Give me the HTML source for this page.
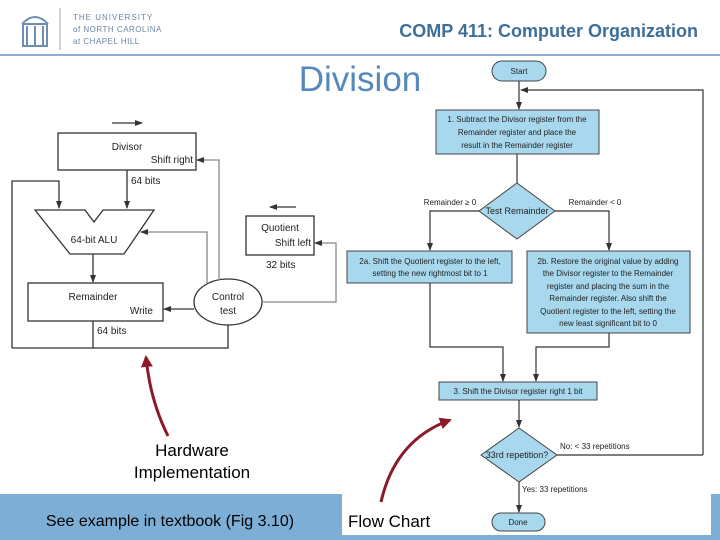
<!DOCTYPE html>
<html><head><meta charset="utf-8"><style>
body{margin:0;width:720px;height:540px;overflow:hidden;background:#fff}
svg{display:block}
text{font-family:"Liberation Sans",sans-serif}
</style></head><body>
<svg width="720" height="540" viewBox="0 0 720 540" xmlns="http://www.w3.org/2000/svg">
<defs>
<marker id="a" markerWidth="8" markerHeight="8" refX="7" refY="4" orient="auto" markerUnits="userSpaceOnUse"><path d="M0,1 L8,4 L0,7 Z" fill="#333"/></marker>
<marker id="g" markerWidth="8" markerHeight="8" refX="7" refY="4" orient="auto" markerUnits="userSpaceOnUse"><path d="M0,1 L8,4 L0,7 Z" fill="#333"/></marker>
<marker id="r" markerWidth="14" markerHeight="14" refX="10" refY="7" orient="auto" markerUnits="userSpaceOnUse"><path d="M0,1 L12,7 L0,13 Z" fill="#8b1a2b"/></marker>
</defs>
<!-- header -->
<g fill="none" stroke="#6f8fb0" stroke-width="2">
<path d="M22,24 Q35,10 48,24"/><rect x="23" y="24" width="24" height="22"/>
<line x1="27" y1="26" x2="27" y2="45"/><line x1="35" y1="26" x2="35" y2="45"/><line x1="43" y1="26" x2="43" y2="45"/>
</g>
<line x1="60" y1="8" x2="60" y2="50" stroke="#9ab" stroke-width="1"/>
<text x="73" y="20" font-family="Liberation Serif" font-size="8" fill="#6b84a0" letter-spacing="1">THE UNIVERSITY</text>
<text x="73" y="32" font-family="Liberation Serif" font-size="8" fill="#6b84a0" letter-spacing="0.5">of NORTH CAROLINA</text>
<text x="73" y="44" font-family="Liberation Serif" font-size="8" fill="#6b84a0" letter-spacing="0.5">at CHAPEL HILL</text>
<text x="698" y="37" text-anchor="end" font-size="18" font-weight="bold" fill="#3d6f9c">COMP 411: Computer Organization</text>
<line x1="0" y1="55" x2="720" y2="55" stroke="#8fb0cc" stroke-width="2"/>
<text x="360" y="91" text-anchor="middle" font-size="35" fill="#5588bb">Division</text>

<!-- hardware -->
<g stroke="#333" stroke-width="1.3" fill="none" font-size="10">
<line x1="112" y1="123" x2="142" y2="123" marker-end="url(#a)"/>
<rect x="58" y="133" width="138" height="37" fill="#fff"/>
<line x1="127" y1="170" x2="127" y2="208" marker-end="url(#a)"/>
<path d="M12,348 L12,181 L59,181 L59,208" marker-end="url(#a)"/>
<path d="M93,321 L93,348 L12,348"/>
<path d="M93,348 L228,348 L228,280" marker-end="url(#a)"/>
<path d="M35,210 L85,210 L94,222 L103,210 L154,210 L124,254 L70,254 Z" fill="#fff"/>
<line x1="93" y1="254" x2="93" y2="282" marker-end="url(#a)"/>
<rect x="28" y="283" width="135" height="38" fill="#fff"/>
<ellipse cx="228" cy="302" rx="34" ry="23" fill="#fff"/>
<line x1="194" y1="309" x2="164" y2="309" marker-end="url(#a)"/>
<path d="M207,283 L207,232 L141,232" stroke="#888" marker-end="url(#g)"/>
<path d="M219,280 L219,160 L197,160" stroke="#888" marker-end="url(#g)"/>
<rect x="246" y="216" width="68" height="39" fill="#fff"/>
<line x1="296" y1="207" x2="270" y2="207" marker-end="url(#a)"/>
<path d="M262,302 L336,302 L336,243 L315,243" stroke="#888" marker-end="url(#g)"/>
</g>
<g font-size="10" fill="#222">
<text x="127" y="150" text-anchor="middle">Divisor</text>
<text x="193" y="163" text-anchor="end">Shift right</text>
<text x="131" y="184">64 bits</text>
<text x="94" y="243" text-anchor="middle">64-bit ALU</text>
<text x="93" y="300" text-anchor="middle">Remainder</text>
<text x="153" y="314" text-anchor="end">Write</text>
<text x="228" y="300" text-anchor="middle">Control</text>
<text x="228" y="314" text-anchor="middle">test</text>
<text x="280" y="231" text-anchor="middle">Quotient</text>
<text x="311" y="246" text-anchor="end">Shift left</text>
<text x="266" y="268">32 bits</text>
<text x="97" y="334">64 bits</text>
</g>

<!-- bottom band -->
<rect x="0" y="494" width="720" height="46" fill="#7daed6"/>
<rect x="342" y="494" width="369" height="41" fill="#fff"/>

<!-- flowchart -->
<g stroke="#333" stroke-width="1.2" fill="none">
<path d="M703,455 L703,90 L521,90" marker-end="url(#a)"/>
<line x1="519" y1="81" x2="519" y2="109" marker-end="url(#a)"/>
<line x1="517" y1="154" x2="517" y2="183"/>
<path d="M479,211 L430,211 L430,250" marker-end="url(#a)"/>
<path d="M555,211 L609,211 L609,250" marker-end="url(#a)"/>
<path d="M430,283 L430,347 L503,347 L503,381" marker-end="url(#a)"/>
<path d="M609,333 L609,347 L536,347 L536,381" marker-end="url(#a)"/>
<line x1="519" y1="400" x2="519" y2="427" marker-end="url(#a)"/>
<line x1="557" y1="455" x2="703" y2="455"/>
<line x1="519" y1="482" x2="519" y2="512" marker-end="url(#a)"/>
</g>
<g stroke="#444" stroke-width="1" fill="#a8d8ee">
<rect x="492" y="61" width="54" height="20" rx="10"/>
<rect x="436" y="110" width="163" height="44"/>
<path d="M517,183 L555,211 L517,239 L479,211 Z"/>
<rect x="347" y="251" width="165" height="32"/>
<rect x="527" y="251" width="163" height="82"/>
<rect x="439" y="382" width="158" height="18"/>
<path d="M519,428 L557,455 L519,482 L481,455 Z"/>
<rect x="492" y="513" width="53" height="18" rx="9"/>
</g>
<g font-size="8" fill="#222" text-anchor="middle">
<text x="519" y="74">Start</text>
<text x="517" y="122">1.  Subtract the Divisor register from the</text>
<text x="517" y="135">Remainder register and place the</text>
<text x="517" y="148">result in the Remainder register</text>
<text x="517" y="214" font-size="9">Test Remainder</text>
<text x="450" y="205">Remainder ≥ 0</text>
<text x="595" y="205">Remainder &lt; 0</text>
<text x="430" y="264">2a.  Shift the Quotient register to the left,</text>
<text x="430" y="276">setting the new rightmost bit to 1</text>
<text x="608" y="264">2b.  Restore the original value by adding</text>
<text x="608" y="276">the Divisor register to the Remainder</text>
<text x="608" y="289">register and placing the sum in the</text>
<text x="608" y="301">Remainder register. Also shift the</text>
<text x="608" y="314">Quotient register to the left, setting the</text>
<text x="608" y="326">new least significant bit to 0</text>
<text x="518" y="394">3.  Shift the Divisor register right 1 bit</text>
<text x="517" y="458" font-size="9">33rd repetition?</text>
<text x="560" y="449" text-anchor="start">No: &lt; 33 repetitions</text>
<text x="522" y="492" text-anchor="start">Yes: 33 repetitions</text>
<text x="518" y="525">Done</text>
</g>

<!-- annotations -->
<path d="M168,436 Q150,400 146,357" stroke="#8b1a2b" stroke-width="3" fill="none" marker-end="url(#r)"/>
<path d="M381,502 Q395,440 450,420" stroke="#8b1a2b" stroke-width="3" fill="none" marker-end="url(#r)"/>
<g font-size="17" fill="#000" text-anchor="middle">
<text x="192" y="456">Hardware</text>
<text x="192" y="478">Implementation</text>
<text x="170" y="526" font-size="16">See example in textbook (Fig 3.10)</text>
</g>
<text x="348" y="527" font-size="17" fill="#000">Flow Chart</text>
</svg>
</body></html>
